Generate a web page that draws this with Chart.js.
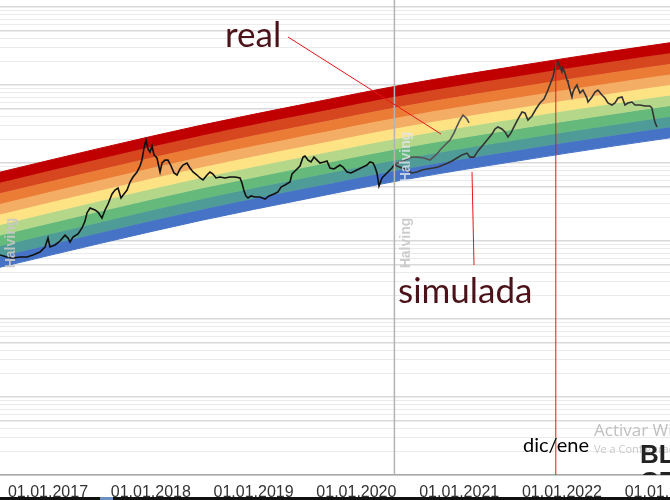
<!DOCTYPE html>
<html>
<head>
<meta charset="utf-8">
<script src="https://cdn.jsdelivr.net/npm/chart.js@4.4.0/dist/chart.umd.min.js"></script>
<style>
  html, body { margin: 0; padding: 0; background: #fff; }
  #wrap { width: 670px; height: 500px; position: relative; }
</style>
</head>
<body>
<div id="wrap"><canvas id="rainbow"></canvas></div>
<script>
// x axis: decimal years, y axis: USD (log)
const yearTicks = [2017, 2018, 2019, 2020, 2021, 2022, 2023];
const halvingDates = [2016.52, 2020.37];
const peakMarker = 2021.94; // "dic/ene"
const xMin = 2016.533, xMax = 2023.051;
const yMin = 1, yMax = 1230000;
const gridDecades = [1, 10, 100, 1000, 10000, 100000, 1000000];
const gridSteps = [1, 2, 3, 4, 5, 6, 7, 8, 9];

// real price
const realYears = [
    2016.533, 2016.601, 2016.660, 2016.728, 2016.796, 2016.854, 2016.922, 2016.971, 2017.000, 2017.019,
    2017.068, 2017.117, 2017.165, 2017.195, 2017.214, 2017.243, 2017.292, 2017.331, 2017.360, 2017.379,
    2017.409, 2017.457, 2017.486, 2017.525, 2017.555, 2017.584, 2017.623, 2017.652, 2017.681, 2017.710,
    2017.739, 2017.769, 2017.798, 2017.827, 2017.866, 2017.895, 2017.914, 2017.934, 2017.953, 2017.973,
    2017.992, 2018.012, 2018.031, 2018.060, 2018.090, 2018.109, 2018.138, 2018.167, 2018.197, 2018.226,
    2018.255, 2018.284, 2018.313, 2018.352, 2018.381, 2018.411, 2018.449, 2018.479, 2018.508, 2018.547,
    2018.576, 2018.605, 2018.634, 2018.673, 2018.722, 2018.770, 2018.819, 2018.868, 2018.887, 2018.907,
    2018.926, 2018.946, 2018.975, 2019.014, 2019.062, 2019.111, 2019.150, 2019.199, 2019.237, 2019.267,
    2019.305, 2019.354, 2019.374, 2019.413, 2019.451, 2019.481, 2019.500, 2019.529, 2019.558, 2019.588,
    2019.617, 2019.646, 2019.685, 2019.714, 2019.743, 2019.782, 2019.811, 2019.840, 2019.870, 2019.909,
    2019.948, 2019.986, 2020.025, 2020.064, 2020.103, 2020.132, 2020.162, 2020.181, 2020.200, 2020.220,
    2020.249, 2020.278, 2020.307, 2020.346, 2020.376, 2020.424, 2020.473, 2020.541, 2020.599, 2020.658,
    2020.716, 2020.774, 2020.823, 2020.872, 2020.911, 2020.950, 2020.979, 2021.008, 2021.037, 2021.057,
    2021.076, 2021.096
];
const realPrices = [
    662, 624, 605, 624, 624, 662, 723, 838, 1090, 838,
    889, 1000, 1190, 1090, 971, 1120, 1230, 1470, 1800, 2290,
    2650, 2500, 2350, 1970, 2500, 2980, 4010, 4510, 4780, 3560,
    4010, 4510, 5700, 6620, 7670, 9160, 10900, 15600, 19700, 15100,
    13800, 16500, 12700, 11600, 7670, 10000, 10900, 10900, 9160, 7450,
    7020, 8380, 9420, 10000, 8630, 7670, 7020, 6430, 6050, 7020,
    7670, 7230, 6430, 6620, 6430, 6620, 6620, 6430, 5540, 4380,
    3780, 3560, 3780, 3660, 3660, 3450, 3780, 4010, 4250, 4920,
    5220, 5700, 7230, 8130, 9160, 11900, 12300, 10900, 10300, 11900,
    10900, 10000, 10300, 10600, 8630, 8380, 8890, 9420, 8890, 7670,
    7450, 7890, 8380, 8890, 9420, 10300, 10000, 8890, 7450, 5070,
    6430, 7020, 7670, 8630, 9700, 10300, 10900, 11900, 11900, 11600,
    10900, 12700, 15100, 17500, 19700, 24300, 29800, 35600, 41200, 38900,
    36600, 32600
];

// simulated price after the 2020 halving
const simYears = [
    2020.376, 2020.395, 2020.444, 2020.492, 2020.541, 2020.590, 2020.638, 2020.687, 2020.745, 2020.794,
    2020.843, 2020.891, 2020.930, 2020.979, 2021.027, 2021.076, 2021.105, 2021.144, 2021.183, 2021.232,
    2021.280, 2021.319, 2021.348, 2021.377, 2021.416, 2021.446, 2021.475, 2021.504, 2021.533, 2021.572,
    2021.611, 2021.640, 2021.669, 2021.708, 2021.747, 2021.786, 2021.825, 2021.864, 2021.893, 2021.912,
    2021.932, 2021.951, 2021.961, 2021.981, 2022.000, 2022.010, 2022.029, 2022.049, 2022.058, 2022.078,
    2022.097, 2022.107, 2022.126, 2022.146, 2022.156, 2022.175, 2022.204, 2022.243, 2022.253, 2022.292,
    2022.321, 2022.350, 2022.389, 2022.418, 2022.447, 2022.486, 2022.516, 2022.545, 2022.584, 2022.613,
    2022.642, 2022.681, 2022.710, 2022.759, 2022.807, 2022.856, 2022.875, 2022.885, 2022.904, 2022.924
];
const simPrices = [
    9700, 9160, 8630, 8130, 7450, 7670, 8130, 8380, 8630, 8890,
    9420, 10000, 10600, 11600, 12700, 13400, 11900, 11900, 14300, 17000,
    20300, 23500, 27300, 29000, 27300, 25000, 21500, 24300, 29000, 36600,
    45100, 43800, 35600, 40100, 49200, 58800, 66200, 86300, 109000, 127000,
    165000, 191000, 197000, 170000, 147000, 165000, 143000, 116000, 109000, 86300,
    70100, 81300, 91500, 100000, 91500, 78900, 86300, 68100, 60500, 70100,
    81300, 86300, 74500, 68100, 58800, 55400, 58800, 68100, 70100, 55400,
    58800, 60500, 55400, 55400, 53800, 53800, 50700, 43800, 33600, 29000
];

// rainbow band edges, top to bottom
const bandYears      = [2016.5, 2017.5, 2018.5, 2019.5, 2020.5, 2021.5, 2022.5, 2023.1];
const redTop         = [7450, 15400, 30700, 57000, 103000, 170000, 273000, 356000];
const redOrangeTop   = [5460, 11250, 22500, 41800, 75500, 124700, 200000, 260600];
const orangeTop      = [3990, 8220, 16400, 30550, 55200, 91200, 146200, 190500];
const lightOrangeTop = [2920, 6030, 12050, 22400, 40460, 66830, 107200, 139600];
const yellowTop      = [2140, 4410, 8810, 16370, 29580, 48870, 78340, 102100];
const lightGreenTop  = [1570, 3230, 6460, 12000, 21680, 35810, 57410, 74820];
const greenTop       = [1150, 2370, 4730, 8790, 15890, 26240, 42070, 54830];
const tealTop        = [840, 1730, 3460, 6430, 11610, 19190, 30760, 40090];
const blueTop        = [615, 1270, 2540, 4710, 8510, 14060, 22540, 29380];
const blueBottom     = [450, 927, 1850, 3440, 6220, 10280, 16480, 21480];

const bandEdges = [redTop, redOrangeTop, orangeTop, lightOrangeTop, yellowTop,
    lightGreenTop, greenTop, tealTop, blueTop, blueBottom];
const bandColors = ['#c00000', '#d6461f', '#eb7c35', '#f4ad64', '#fde384',
    '#b5d78a', '#65b97a', '#4f9b97', '#4673c6'];

function points(xs, ys) {
    return xs.map((v, i) => ({ x: v, y: ys[i] }));
}

function isMajorGrid(v) {
    const m = Math.round(v / Math.pow(10, Math.floor(Math.log10(v) + 1e-9)));
    return m === 1 || m === 5;
}

const bandSets = bandEdges.map((edge, i) => ({
    data: points(bandYears, edge),
    borderWidth: 1,
    borderColor: bandColors[Math.min(i, bandColors.length - 1)],
    backgroundColor: bandColors[Math.min(i, bandColors.length - 1)],
    fill: i < bandEdges.length - 1 ? '+1' : false,
    pointRadius: 0,
    cubicInterpolationMode: 'monotone'
}));

function vText(ctx, text, cx, cy, color) {
    ctx.save();
    ctx.translate(cx, cy);
    ctx.rotate(-Math.PI / 2);
    ctx.textAlign = 'center';
    ctx.textBaseline = 'middle';
    ctx.fillStyle = color;
    ctx.fillText(text, 0, 0);
    ctx.restore();
}

const notesPlugin = {
    id: 'notes',
    afterDatasetsDraw(chart) {
        const { ctx, chartArea, scales: { x, y } } = chart;
        ctx.save();

        // halving lines + labels
        ctx.font = 'bold 14px "Liberation Sans"';
        halvingDates.forEach((h, i) => {
            const px = x.getPixelForValue(h);
            ctx.strokeStyle = '#b4b4b4';
            ctx.lineWidth = 1.5;
            ctx.beginPath();
            ctx.moveTo(px, chartArea.top);
            ctx.lineTo(px, chartArea.bottom);
            ctx.stroke();
            vText(ctx, 'Halving', px + 12, 243, 'rgba(200,200,200,0.9)');
            if (i === halvingDates.length - 1) {
                vText(ctx, 'Halving', px + 12, 157, 'rgba(225,228,240,0.8)');
            }
        });

        // red pointers
        ctx.strokeStyle = '#e8141b';
        ctx.lineWidth = 1;
        ctx.beginPath();
        ctx.moveTo(288, 37);
        ctx.lineTo(441, 134);
        ctx.moveTo(472, 172);
        ctx.lineTo(474, 265);
        const mx = x.getPixelForValue(peakMarker);
        ctx.moveTo(mx, y.getPixelForValue(197000));
        ctx.lineTo(mx, chartArea.bottom);
        ctx.stroke();

        ctx.fillStyle = '#4b1219';
        ctx.font = '35px Lato';
        ctx.textAlign = 'left';
        ctx.textBaseline = 'alphabetic';
        ctx.fillText('real', 225, 47);
        ctx.fillText('simulada', 398, 303);

        ctx.fillStyle = '#000';
        ctx.font = '20px Lato';
        ctx.fillText('dic/ene', 523, 452);

        // screenshot leftovers
        ctx.fillStyle = '#c0c0c0';
        ctx.font = '17px "Open Sans"';
        ctx.fillText('Activar Windows', 594, 436);
        ctx.fillStyle = '#c8c8c8';
        ctx.font = '11px "Open Sans"';
        ctx.fillText('Ve a Configuración para activar Windows.', 594, 453);

        ctx.beginPath();
        ctx.rect(0, 0, chart.width, chartArea.bottom);
        ctx.clip();
        ctx.fillStyle = '#222';
        ctx.font = 'bold 26px "Liberation Sans"';
        ctx.fillText('BL', 640, 463);
        ctx.fillText('CE', 640, 490);
        ctx.restore();
    },
    afterDraw(chart) {
        const ctx = chart.ctx;
        ctx.save();
        ctx.fillStyle = '#111';
        ctx.fillRect(0, 497, chart.width, 3);
        ctx.fillStyle = '#6d8fc4';
        ctx.fillRect(100, 497, 13, 3);
        ctx.restore();
    }
};

new Chart(document.getElementById('rainbow'), {
    type: 'line',
    data: {
        datasets: [{
            label: 'real',
            data: points(realYears, realPrices),
            borderColor: '#111',
            borderWidth: 1.6,
            pointRadius: 0,
            tension: 0,
            fill: false,
            segment: {
                borderColor: c => c.p0.parsed.x >= halvingDates[1] ? '#555' : '#111'
            }
        }, {
            label: 'simulada',
            data: points(simYears, simPrices),
            borderColor: '#333',
            borderWidth: 1.6,
            pointRadius: 0,
            tension: 0,
            fill: false
        }].concat(bandSets)
    },
    options: {
        responsive: true,
        maintainAspectRatio: false,
        animation: false,
        layout: { padding: 0 },
        plugins: {
            legend: { display: false },
            tooltip: { enabled: false }
        },
        scales: {
            x: {
                type: 'linear',
                min: xMin,
                max: xMax,
                afterBuildTicks: s => { s.ticks = yearTicks.map(v => ({ value: v })); },
                afterFit: s => { s.paddingLeft = 0; s.paddingRight = 0; s.height = 25; },
                grid: { display: false, drawTicks: false },
                border: { display: true, color: '#a8a8a8', width: 1.5 },
                ticks: {
                    autoSkip: false,
                    maxRotation: 0,
                    padding: 8,
                    color: '#333',
                    font: { family: '"Liberation Sans", Arial', size: 16 },
                    callback: v => '01.01.' + v
                }
            },
            y: {
                type: 'logarithmic',
                min: yMin,
                max: yMax,
                afterBuildTicks: s => {
                    const t = [];
                    gridDecades.forEach(d => gridSteps.forEach(m => t.push({ value: d * m })));
                    s.ticks = t.filter(o => o.value <= yMax);
                },
                afterFit: s => { s.width = 0; },
                border: { display: false },
                ticks: { display: false },
                grid: {
                    drawTicks: false,
                    color: c => isMajorGrid(c.tick.value) ? '#d9d9d9' : '#ebebeb',
                    lineWidth: c => isMajorGrid(c.tick.value) ? 1.6 : 1
                }
            }
        }
    },
    plugins: [notesPlugin]
});
</script>
</body>
</html>
